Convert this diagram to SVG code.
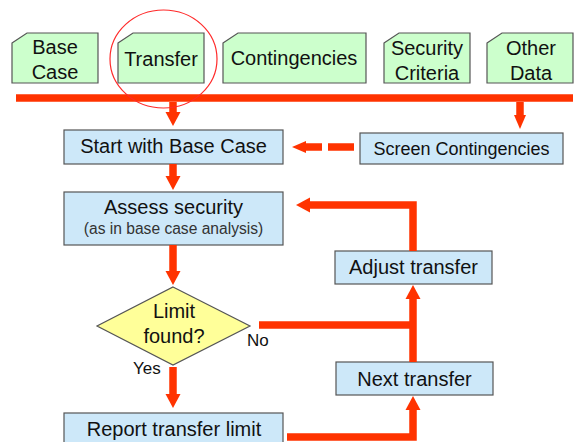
<svg xmlns="http://www.w3.org/2000/svg" width="574" height="442" viewBox="0 0 574 442">
  <defs>
    <style>
      text { font-family: "Liberation Sans", Arial, sans-serif; fill: #111; text-anchor: middle; }
      .t20 { font-size: 20px; }
      .t18 { font-size: 18px; }
      .t16 { font-size: 15.6px; fill: #333; }
      .t17 { font-size: 17px; text-anchor: start; }
      .doc { fill: #ccffcc; stroke: #555; stroke-width: 1.2; }
      .box { fill: #cde8f9; stroke: #555; stroke-width: 1.2; }
      .dec { fill: #ffff99; stroke: #555; stroke-width: 1.2; }
      .flow { fill: none; stroke: #ff3300; stroke-width: 7.5; stroke-linejoin: miter; }
    </style>
    <marker id="ah" markerUnits="userSpaceOnUse" markerWidth="16" markerHeight="18" viewBox="0 -9 16 18" refX="1" refY="0" orient="auto" overflow="visible">
      <path d="M0,-7.5 L14,0 L0,7.5 z" fill="#ff3300"/>
    </marker>
    <marker id="ahs" markerUnits="userSpaceOnUse" markerWidth="16" markerHeight="16" viewBox="0 -8 16 16" refX="1" refY="0" orient="auto" overflow="visible">
      <path d="M0,-6 L14,0 L0,6 z" fill="#ff3300"/>
    </marker>
  </defs>

  <rect width="574" height="442" fill="#ffffff"/>

  <!-- input documents -->
  <g id="doc-base-case">
    <path class="doc" d="M12,43 L27,33 L98,33 L98,83 L12,83 z"/>
    <text class="t20" x="55" y="54">Base</text>
    <text class="t20" x="55" y="79">Case</text>
  </g>
  <g id="doc-transfer">
    <path class="doc" d="M118,43 L133,33 L204,33 L204,83 L118,83 z"/>
    <text class="t20" x="161" y="66">Transfer</text>
  </g>
  <g id="doc-contingencies">
    <path class="doc" d="M223,43 L238,33 L366,33 L366,83 L223,83 z"/>
    <text class="t20" x="294" y="65">Contingencies</text>
  </g>
  <g id="doc-security-criteria">
    <path class="doc" d="M384,43 L399,33 L470,33 L470,83 L384,83 z"/>
    <text class="t20" x="427" y="55">Security</text>
    <text class="t20" x="427" y="80">Criteria</text>
  </g>
  <g id="doc-other-data">
    <path class="doc" d="M487,43 L502,33 L573,33 L573,83 L487,83 z"/>
    <text class="t20" x="531" y="55">Other</text>
    <text class="t20" x="531" y="80">Data</text>
  </g>

  <!-- process steps -->
  <g id="start-base-case">
    <rect class="box" x="64" y="130" width="219" height="34"/>
    <text class="t20" x="173.5" y="153">Start with Base Case</text>
  </g>
  <g id="screen-contingencies">
    <rect class="box" x="360" y="133" width="203" height="31"/>
    <text class="t18" x="461.5" y="155">Screen Contingencies</text>
  </g>
  <g id="assess-security">
    <rect class="box" x="64" y="192" width="219" height="53"/>
    <text class="t20" x="173.5" y="214">Assess security</text>
    <text class="t16" x="173.5" y="234">(as in base case analysis)</text>
  </g>
  <g id="adjust-transfer">
    <rect class="box" x="335" y="251" width="157" height="33"/>
    <text class="t20" x="413.5" y="274">Adjust transfer</text>
  </g>
  <g id="limit-found">
    <path class="dec" d="M173,287 L250,326 L173,365 L97,326 z"/>
    <text class="t20" x="174" y="318">Limit</text>
    <text class="t20" x="174" y="343">found?</text>
  </g>
  <g id="next-transfer">
    <rect class="box" x="336" y="362" width="157" height="33"/>
    <text class="t20" x="414.5" y="386">Next transfer</text>
  </g>
  <g id="report-transfer-limit">
    <rect class="box" x="64" y="413" width="219" height="40"/>
    <text class="t20" x="174" y="436">Report transfer limit</text>
  </g>

  <!-- connectors -->
  <g id="connectors">
    <line class="flow" x1="16" y1="98" x2="573" y2="98" stroke-width="8"/>
    <line class="flow" x1="173" y1="102" x2="173" y2="113" stroke-width="6" marker-end="url(#ah)"/>
    <line class="flow" x1="520" y1="102" x2="520" y2="116" stroke-width="6" marker-end="url(#ahs)"/>
    <line class="flow" x1="354" y1="147" x2="305" y2="147" stroke-width="6" stroke-dasharray="26 6" marker-end="url(#ahs)"/>
    <line class="flow" x1="173" y1="164" x2="173" y2="177" marker-end="url(#ah)"/>
    <line class="flow" x1="173" y1="245" x2="173" y2="272" marker-end="url(#ah)"/>
    <line class="flow" x1="173" y1="367" x2="173" y2="395" marker-end="url(#ah)"/>
    <line class="flow" x1="259" y1="325" x2="413" y2="325"/>
    <line class="flow" x1="413" y1="362" x2="413" y2="298" marker-end="url(#ah)"/>
    <polyline class="flow" points="413,251 413,205 309,205" marker-end="url(#ah)"/>
    <polyline class="flow" points="287,437 413,437 413,409" marker-end="url(#ah)"/>
    <text class="t17" x="247" y="346">No</text>
    <text class="t17" x="133" y="374">Yes</text>
  </g>

  <!-- highlight ring around the transfer input -->
  <ellipse cx="163.5" cy="59" rx="53.5" ry="49" fill="none" stroke="#ff2a2a" stroke-width="1.2"/>
</svg>
